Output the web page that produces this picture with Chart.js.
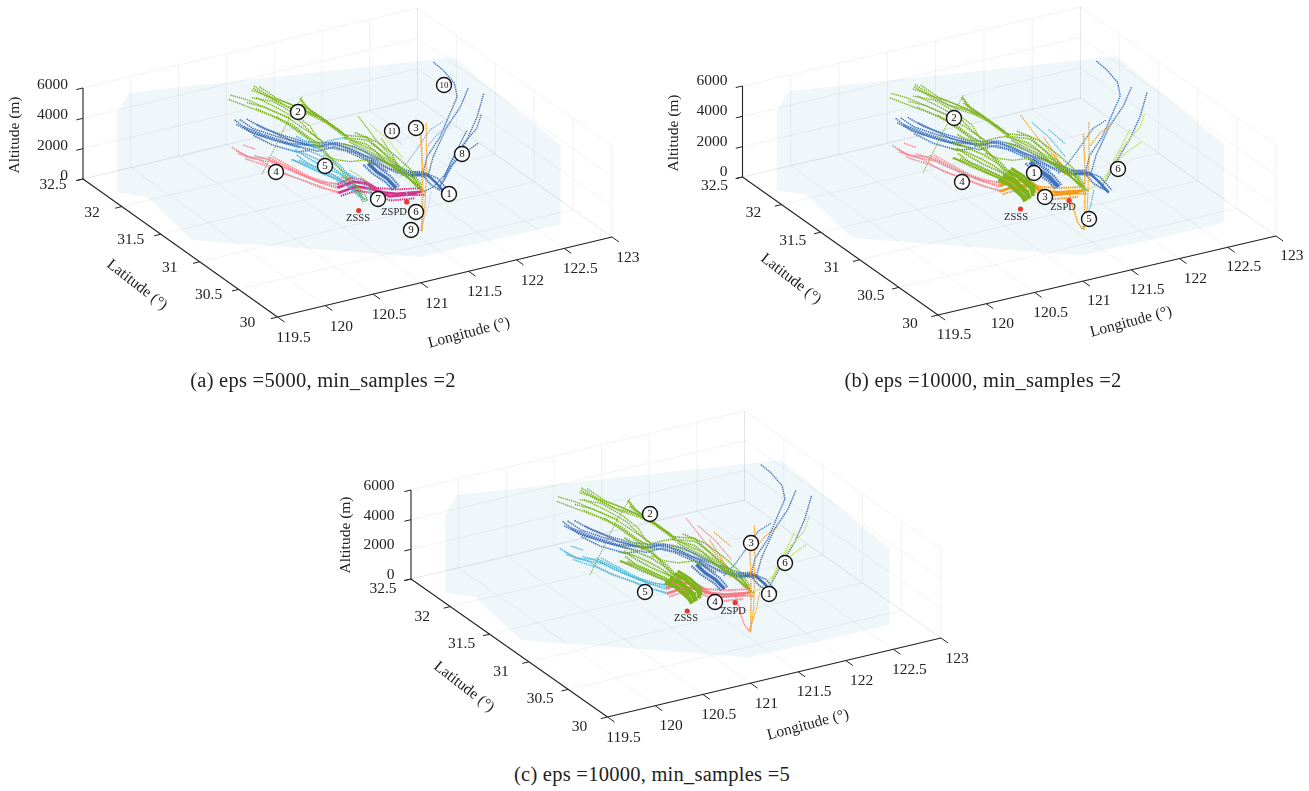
<!DOCTYPE html>
<html><head><meta charset="utf-8">
<style>
html,body{margin:0;padding:0;background:#fff;width:1309px;height:791px;overflow:hidden}
canvas{position:absolute}
.cap{position:absolute;font:20.5px "Liberation Serif",serif;letter-spacing:.25px;color:#222;white-space:nowrap;transform:translate(-50%,-50%)}
</style>
<script src="https://cdn.jsdelivr.net/npm/chart.js@4/dist/chart.umd.min.js"></script>
</head><body>
<canvas id="pa" width="655" height="400" style="left:0;top:0;width:655px;height:400px"></canvas>
<canvas id="pb" width="654" height="400" style="left:655px;top:0;width:654px;height:400px"></canvas>
<canvas id="pc" width="660" height="360" style="left:320px;top:400px;width:660px;height:360px"></canvas>
<div class="cap" style="left:323px;top:380px">(a) eps =5000, min_samples =2</div>
<div class="cap" style="left:983px;top:380px">(b) eps =10000, min_samples =2</div>
<div class="cap" style="left:652px;top:774px">(c) eps =10000, min_samples =5</div>
<script>
// ---- axis ticks ----
const lonTicks=[119.5,120,120.5,121,121.5,122,122.5,123];
const latTicks=[30,30.5,31,31.5,32,32.5];
const altTicks=[0,2000,4000,6000];
// ---- airports: lon, lat, alt ----
const ZSSS=[121.31,31.18,0];
const ZSPD=[121.78,31.14,0];
// ---- terminal airspace outline: lon, lat, alt ----
const airspace=[[119.62,32.21,0],[119.8,32.05,0],[119.68,31.32,0],[121.28,30.35,0],[122.74,30.34,0],[122.74,30.34,5200],[122.87,31.88,5200],[119.94,32.45,5200],[119.62,32.21,5200],[119.62,32.21,0]];
// ---- trajectories: lon, lat, alt (m) ----
const t2a=[[120.79,32.21,4350],[120.92,32.14,3960],[121.07,32.03,3560],[121.19,31.91,3160],[121.25,31.78,2770],[121.33,31.70,2500]];
const t2b=[[121.06,32.23,4610],[121.12,32.12,4350],[121.23,32.01,3960],[121.42,31.98,3430],[121.52,31.90,3030],[121.60,31.74,2500],[121.85,31.74,1980],[121.86,31.58,1710],[121.86,31.32,1320],[121.92,31.15,660]];
const t2c=[[120.99,32.16,4350],[121.18,32.12,3960],[121.30,32.00,3430],[121.35,31.85,3030],[121.33,31.72,2640]];
const t2d=[[121.15,32.26,4480],[121.22,32.12,4090],[121.36,32.04,3630],[121.49,31.94,3160]];
const t2e=[[121.46,32.09,3960],[121.31,32.06,2970],[121.18,32.03,1980],[120.89,31.91,330]];
const t2f=[[121.45,32.10,3820],[121.46,31.99,3430],[121.54,31.88,2970],[121.62,31.71,2500]];
const t2g=[[121.15,32.04,3300],[121.21,31.89,2970],[121.26,31.75,2640],[121.32,31.62,2240],[121.32,31.46,1850],[121.34,31.35,1450],[121.35,31.22,920],[121.37,31.17,530]];
const t2h=[[121.60,31.73,2370],[121.82,31.70,1980],[121.86,31.54,1710],[121.88,31.40,1450],[121.93,31.28,1050],[121.94,31.14,660]];
const t2i=[[121.62,31.68,2240],[121.75,31.49,1850],[121.85,31.36,1320],[121.90,31.20,920],[121.90,31.09,660]];
const t2j=[[121.34,31.67,1850],[121.42,31.60,1650],[121.54,31.57,1450],[121.71,31.57,1320],[121.73,31.50,1190]];
const t2k=[[121.02,32.20,4640],[121.10,32.13,4480],[121.25,32.03,4090],[121.40,31.97,3600],[121.50,31.92,3210],[121.58,31.76,2700]];
const t2l=[[121.10,32.27,4560],[121.17,32.13,4200],[121.27,32.00,3780],[121.44,31.95,3270],[121.55,31.87,2860],[121.63,31.72,2380]];
const t2m=[[120.93,32.15,4150],[121.08,32.10,3800],[121.22,31.98,3330],[121.30,31.84,2900],[121.36,31.70,2560]];
const t2n=[[121.05,32.18,4200],[121.20,32.08,3620],[121.31,31.95,3150],[121.33,31.80,2760],[121.39,31.68,2350]];
const t2o=[[121.00,32.12,3760],[121.12,32.02,3400],[121.22,31.92,3100],[121.29,31.80,2620],[121.36,31.66,2180]];
const t2p=[[121.63,31.75,2200],[121.78,31.66,1920],[121.83,31.52,1560],[121.90,31.38,1240],[121.95,31.24,880],[121.93,31.11,560]];
const t2q=[[121.58,31.70,2080],[121.72,31.58,1760],[121.80,31.42,1500],[121.87,31.30,1130],[121.92,31.16,800]];
const t2r=[[121.75,31.77,2330],[121.88,31.64,1980],[121.94,31.48,1560],[121.97,31.32,1180],[121.96,31.17,740]];
const t2s=[[121.68,31.74,2050],[121.82,31.60,1620],[121.84,31.45,1300],[121.89,31.26,980],[121.95,31.10,500]];
const t2t=[[120.83,32.24,4480],[120.96,32.18,4180],[121.10,32.06,3760],[121.22,31.95,3420]];
const t2u=[[121.43,32.06,3600],[121.49,31.97,3300],[121.56,31.86,2840],[121.64,31.72,2350]];
const t2v=[[121.42,32.07,3980],[121.43,32.00,3600],[121.52,31.90,3150],[121.60,31.74,2650]];
const t5a=[[120.93,31.51,3030],[120.99,31.44,2640],[121.09,31.36,2240],[121.21,31.30,1850],[121.28,31.25,1450],[121.32,31.17,920],[121.40,31.18,530]];
const t5b=[[120.91,31.46,2900],[121.04,31.39,2500],[121.18,31.30,1980],[121.31,31.20,1050]];
const t5c=[[120.91,31.57,3160],[121.03,31.53,2900],[121.14,31.47,2500],[121.25,31.43,1980],[121.31,31.33,1580],[121.37,31.19,660]];
const t5d=[[121.24,31.68,2370],[121.41,31.73,2370],[121.53,31.76,2240],[121.65,31.75,2240]];
const t5e=[[120.95,31.55,3200],[121.02,31.47,2820],[121.12,31.40,2380],[121.23,31.33,2000],[121.30,31.27,1550],[121.35,31.19,1020]];
const t5f=[[120.88,31.50,2850],[121.00,31.41,2380],[121.12,31.33,2000],[121.24,31.27,1680],[121.33,31.19,1120]];
const t5g=[[120.96,31.60,3400],[121.06,31.53,3080],[121.17,31.48,2700],[121.27,31.41,2180],[121.33,31.32,1640],[121.38,31.21,800]];
const t5h=[[120.89,31.53,2700],[121.00,31.47,2400],[121.10,31.39,2060],[121.20,31.32,1680],[121.29,31.22,1230]];
const t5i=[[121.08,31.70,3350],[121.15,31.60,3080],[121.22,31.52,2750],[121.30,31.42,2180],[121.36,31.30,1440]];
const t8=[[121.26,31.34,1710],[121.33,31.29,1450],[121.39,31.20,920],[121.40,31.18,530]];
const t8b=[[121.31,31.34,1910],[121.38,31.29,1620],[121.44,31.20,1090],[121.44,31.18,660]];
const t8c=[[121.21,31.34,1500],[121.28,31.29,1260],[121.34,31.20,760],[121.36,31.18,430]];
const t8d=[[121.35,31.35,2000],[121.42,31.28,1660],[121.47,31.21,1200],[121.46,31.19,800]];
const b1=[[120.83,32.12,3300],[120.88,32.01,3030],[121.02,31.88,2770],[121.16,31.80,2500],[121.30,31.71,2240],[121.45,31.72,2240],[121.60,31.64,1980],[121.71,31.52,1580],[121.82,31.40,1190],[121.95,31.30,920],[122.13,31.27,660]];
const b2=[[120.81,32.16,3160],[120.84,32.00,2900],[120.98,31.87,2640],[121.17,31.76,2240]];
const b3=[[120.80,32.04,3160],[120.91,31.92,2900],[121.09,31.80,2500],[121.32,31.73,2240],[121.52,31.72,2110],[121.67,31.56,1710],[121.82,31.49,1320],[121.91,31.34,1050],[122.12,31.30,660]];
const b4=[[121.66,31.49,1450],[121.68,31.40,1190],[121.73,31.33,920],[121.76,31.25,530]];
const b5=[[120.85,31.97,2770],[120.94,31.83,2500],[121.12,31.74,2110],[121.24,31.72,2110]];
const b6=[[121.95,31.30,920],[122.11,31.29,790],[122.11,31.16,660],[122.11,31.04,400]];
const b7=[[122.07,31.29,790],[122.06,31.17,590],[122.11,31.08,400]];
const b8=[[120.77,32.09,3180],[120.86,31.98,2850],[121.00,31.84,2620],[121.14,31.76,2380],[121.29,31.68,2120],[121.47,31.69,2110],[121.61,31.60,1820],[121.72,31.49,1430],[121.84,31.37,1060],[121.98,31.28,800]];
const b9=[[120.87,32.08,3420],[120.95,31.96,3100],[121.07,31.84,2880],[121.20,31.76,2620],[121.36,31.74,2340],[121.50,31.70,2300],[121.63,31.62,2120],[121.73,31.55,1700],[121.85,31.43,1320],[121.98,31.33,1010],[122.10,31.31,800]];
const b10=[[120.93,32.02,3180],[121.03,31.93,2850],[121.12,31.83,2560],[121.26,31.74,2380],[121.40,31.72,2100],[121.56,31.66,1820],[121.68,31.50,1500],[121.78,31.38,1120]];
const b11=[[121.62,31.50,1380],[121.65,31.42,1050],[121.70,31.31,800],[121.72,31.24,480]];
const b12=[[121.70,31.50,1560],[121.72,31.40,1290],[121.77,31.33,1000],[121.79,31.25,620]];
const b13=[[121.96,31.32,1050],[122.08,31.32,900],[122.15,31.20,790],[122.15,31.05,470]];
const n1=[[122.76,32.00,4610],[122.79,31.91,4350],[122.80,31.78,3960],[122.74,31.67,3560],[122.64,31.62,3030],[122.38,31.45,2240],[122.17,31.36,1580],[122.07,31.29,790]];
const n2=[[122.92,31.75,3560],[122.74,31.63,3030],[122.50,31.51,2500],[122.22,31.34,1580],[122.11,31.27,790]];
const n3=[[122.96,31.60,3690],[122.85,31.55,2500],[122.62,31.40,1850],[122.40,31.28,1320],[122.18,31.16,660],[122.08,31.12,400]];
const n4=[[122.63,31.27,2110],[122.47,31.26,1710],[122.31,31.23,1190],[122.14,31.15,530]];
const n5=[[122.86,31.51,2770],[122.74,31.42,2370],[122.57,31.36,1980],[122.41,31.29,1580],[122.24,31.22,790],[122.07,31.15,530],[121.96,31.14,400]];
const n6=[[122.51,31.57,2640],[122.38,31.58,2240],[122.14,31.46,1710],[121.98,31.39,1320],[121.83,31.35,920]];
const n7=[[122.66,31.45,2240],[122.52,31.37,1810],[122.36,31.28,1320],[122.20,31.18,780]];
const p1=[[120.62,31.96,2370],[120.65,31.81,2240],[120.83,31.78,1980],[120.92,31.63,1710],[121.06,31.50,1320],[121.23,31.36,920]];
const p2=[[120.62,31.88,2240],[120.76,31.78,1980],[120.86,31.60,1580],[120.99,31.50,1320],[121.21,31.32,790]];
const p3=[[120.86,31.79,1980],[120.96,31.59,1710],[121.08,31.44,1320],[121.27,31.39,1050]];
const p4=[[120.71,31.93,2500],[120.78,31.86,2370]];
const p5=[[120.90,31.78,1980],[121.02,31.54,1580],[121.13,31.42,1190]];
const p6=[[120.64,31.93,2240],[120.70,31.82,2060],[120.88,31.72,1800],[121.00,31.58,1440],[121.14,31.44,1100],[121.27,31.36,960]];
const p7=[[120.66,31.84,2000],[120.80,31.72,1720],[120.94,31.55,1400],[121.10,31.40,1000],[121.24,31.32,800]];
const p8=[[120.76,31.84,2060],[120.90,31.68,1890],[121.02,31.52,1500],[121.18,31.42,1180],[121.29,31.37,1000]];
const m1=[[121.24,31.37,920],[121.43,31.40,920],[121.54,31.36,790],[121.55,31.24,660],[121.68,31.15,660],[121.92,31.12,530]];
const m2=[[121.21,31.32,790],[121.43,31.35,790],[121.55,31.28,660],[121.62,31.16,530],[121.86,31.11,530]];
const m3=[[121.26,31.39,1040],[121.44,31.43,1060],[121.53,31.39,920],[121.56,31.27,790],[121.70,31.18,800],[121.93,31.15,640]];
const m4=[[121.22,31.30,660],[121.40,31.32,660],[121.52,31.26,560],[121.60,31.13,400],[121.82,31.08,400]];
const m5=[[121.24,31.35,1000],[121.42,31.37,1040],[121.56,31.33,760],[121.60,31.20,620],[121.74,31.12,620],[121.92,31.08,470]];
const o1=[[122.10,31.35,3160],[121.96,31.16,1980],[121.79,30.95,790],[121.57,30.69,0]];
const o2=[[122.18,31.38,3690],[122.02,31.18,2240],[121.76,30.88,660],[121.57,30.69,0]];
const o3=[[122.52,31.50,2640],[122.38,31.49,2240],[122.24,31.44,1850]];
const k1=[[121.86,31.86,2900],[121.87,31.64,2110],[121.91,31.42,1320],[121.91,31.18,660]];
const k2=[[121.89,31.75,2770],[121.97,31.63,2110],[121.99,31.44,1450]];
const k3=[[122.03,31.71,2240],[122.09,31.57,1710]];
const k4=[[121.93,31.65,2110],[121.91,31.47,1580],[121.85,31.28,1050]];
const s1=[[122.02,31.12,400],[121.85,30.95,260],[121.69,30.81,130],[121.57,30.71,0]];
const s2=[[121.80,31.17,530],[121.74,31.06,260],[121.60,30.81,70],[121.57,30.71,0]];

// ---- styling ----
const BLUE='#4272ba',LBLUE='#8fb0e0',GREEN='#7db41a',PINK='#f5808a',CYAN='#4cb9d6',MAG='#d4358a',ORG='#f29c1a',LIME='#c5e060',LAV='#c2cdeb',SAL='#f87c85';
const S=(t,c,w)=>({t,c,w});
const same=c=>[c,c,c];
const trackTable=[
 ...[p1,p2,p3,p4,p5,p6,p7,p8].map(t=>S(t,[PINK,PINK,CYAN],[1.4,1.4,1.4])),
 ...[n1,n2,n3].map(t=>S(t,same(BLUE),[1.4,1.4,1.4])),
 ...[n4,n5,n7].map(t=>S(t,[BLUE,LIME,LIME],[1.3,1.5,1.5])),
 S(n6,[LBLUE,BLUE,BLUE],[1.2,1.2,1.2]),
 S(k3,[LAV,CYAN,ORG],[1.2,1.2,1.2]),S(k2,[LIME,CYAN,SAL],[1.2,1.2,1.2]),S(k1,[GREEN,ORG,SAL],[1.2,1.2,1.2]),S(k4,[GREEN,ORG,ORG],[1.2,1.2,1.2]),S(o3,[LBLUE,ORG,ORG],[1.2,1.2,1.2]),
 ...[b1,b2,b5,b8,b9,b10].map(t=>S(t,same(BLUE),[1.6,1.6,1.6])),
 S(b3,same(BLUE),[2.2,2.2,2.2]),S(b11,same(BLUE),[2.2,2.2,2.2]),S(b12,same(BLUE),[2.2,2.2,2.2]),S(b4,same(BLUE),[3.5,4.5,3.5]),S(b6,same(BLUE),[2.6,2.6,2.6]),S(b13,same(BLUE),[1.6,1.6,1.6]),S(b7,same(BLUE),[1.8,1.8,1.8]),
 S(t5d,[CYAN,GREEN,GREEN],[1.6,1.6,1.6]),
 ...[t5a,t5b,t5c,t5e,t5f,t5g,t5h,t5i].map(t=>S(t,[CYAN,GREEN,GREEN],[1.7,1.9,1.9])),
 ...[t2a,t2c,t2d,t2k,t2l,t2m,t2n,t2o,t2t,t2j].map(t=>S(t,same(GREEN),[1.4,1.4,1.4])),
 S(t2e,same(GREEN),[1,1,1]),
 ...[t2f,t2u,t2v,t2b,t2g].map(t=>S(t,same(GREEN),[1.7,1.7,1.7])),
 ...[t2h,t2i,t2p,t2q,t2r,t2s].map(t=>S(t,same(GREEN),[1.7,1.7,1.7])),
 S(m3,[MAG,ORG,SAL],[2,2,2]),S(m4,[MAG,ORG,SAL],[2,2,2]),S(m5,[MAG,ORG,SAL],[2.4,2.4,2.4]),S(m1,[MAG,ORG,SAL],[2.6,2.6,2.6]),S(m2,[MAG,ORG,SAL],[2.6,2.6,2.6]),
 S(t8b,[CYAN,GREEN,GREEN],[1.5,4,4]),S(t8c,[CYAN,GREEN,GREEN],[1.5,4,4]),S(t8d,[GREEN,GREEN,GREEN],[1,3,3]),S(t8,same(GREEN),[1.5,5,5]),
 S(s1,[LAV,CYAN,ORG],[1.1,1.3,1.1]),S(s2,[LAV,ORG,SAL],[1.1,1.5,1.4]),S(o2,same(ORG),[1.2,1.2,1.2]),S(o1,same(ORG),[1.8,1.5,1.5])
];
const views=[
 {id:'pa',box:[0,0,655,400],o:[277.5,317],lon:[95.57,-22.86],lat:[-77.8,-55.2],e:0.01517,
  altOff:[-15,-3],latOff:[-30,6],lonOff:[16,21],
  titles:[['Altitude (m)',15,135,-90],['Latitude (°)',137,285,38],['Longitude (°)',469,333,-15]],
  apt:[['ZSSS',358,218],['ZSPD',394,212]],
  marks:[['1',449,194],['2',298,112],['3',416,128],['4',276,172],['5',325,166],['6',416,212],['7',378,199],['8',462,154],['9',411,230],['10',444,85],['11',392,131]]},
 {id:'pb',box:[655,0,654,400],o:[938,315],lon:[96.57,-22.57],lat:[-78.2,-55.2],e:0.01517,
  altOff:[-15,-5],latOff:[-28,8.5],lonOff:[16,20],
  titles:[['Altitude (m)',674,133,-90],['Latitude (°)',791,279,38],['Longitude (°)',1131,322,-15]],
  apt:[['ZSSS',1016,217],['ZSPD',1063,207]],
  marks:[['1',1034,173],['2',954,118],['3',1045,197],['4',962,182],['5',1089,219],['6',1118,169]]},
 {id:'pc',box:[320,400,660,360],o:[607.5,717],lon:[95.29,-22.57],lat:[-78.6,-55.2],e:0.01483,
  altOff:[-16.5,-4],latOff:[-28,10],lonOff:[16,20.5],
  titles:[['Altitude (m)',346,535,-90],['Latitude (°)',464,687,38],['Longitude (°)',808,725,-15]],
  apt:[['ZSSS',686,618],['ZSPD',733,611]],
  marks:[['1',769,594],['2',650,514],['3',751,543],['4',715,602],['5',645,592],['6',785,563]]}
];
views.forEach((v,vi)=>{
  const P=(lon,lat,alt)=>({x:v.o[0]+(lon-119.5)*v.lon[0]+(lat-30)*v.lat[0],
                           y:v.o[1]+(lon-119.5)*v.lon[1]+(lat-30)*v.lat[1]-alt*v.e});
  const line=(pts,color,w,extra)=>Object.assign({type:'scatter',data:pts,showLine:true,pointRadius:0,borderColor:color,borderWidth:w,tension:0,fill:false},extra||{});
  const ds=[];
  ds.push(line(airspace.map(p=>P(...p)),'rgba(0,0,0,0)',0,{fill:'shape',backgroundColor:'#f0f7fb'}));
  const G='rgba(0,0,0,0.05)';
  lonTicks.forEach(l=>{ds.push(line([P(l,30,0),P(l,32.5,0)],G,1));ds.push(line([P(l,32.5,0),P(l,32.5,6000)],G,1));});
  latTicks.forEach(l=>{ds.push(line([P(119.5,l,0),P(123,l,0)],G,1));ds.push(line([P(123,l,0),P(123,l,6000)],G,1));});
  altTicks.forEach(a=>{ds.push(line([P(119.5,32.5,a),P(123,32.5,a)],G,1));ds.push(line([P(123,32.5,a),P(123,30,a)],G,1));});
  const K='#222';
  ds.push(line([P(119.5,32.5,0),P(119.5,32.5,6000)],K,1.1));
  ds.push(line([P(119.5,32.5,0),P(119.5,30,0)],K,1.1));
  ds.push(line([P(119.5,30,0),P(123,30,0)],K,1.1));
  altTicks.forEach(a=>ds.push(line([P(119.5,32.5,a),P(119.43,32.5,a)],K,1)));
  latTicks.forEach(l=>ds.push(line([P(119.5,l,0),P(119.43,l,0)],K,1)));
  lonTicks.forEach(l=>ds.push(line([P(l,30,0),P(l,29.91,0)],K,1)));
  trackTable.forEach(s=>ds.push(line(s.t.map(p=>P(...p)),s.c[vi],s.w[vi],{borderDash:s.w[vi]>=2.5?[]:[1.4,.8]})));
  ds.push({type:'scatter',data:[P(...ZSSS),P(...ZSPD)],pointRadius:2.6,pointBackgroundColor:'#e8392f',pointBorderWidth:0,showLine:false});
  ds.push({type:'scatter',data:v.marks.map(m=>({x:m[1],y:m[2]})),pointRadius:7.5,pointBackgroundColor:'#fff',pointBorderColor:'#111',pointBorderWidth:1.4,showLine:false});
  ds.reverse(); // Chart.js paints the first dataset on top
  const textPlugin={id:'txt',afterDatasetsDraw(c){
    const X=c.scales.x,Y=c.scales.y,g=c.ctx;
    const put=(s,x,y,font,color,rot,al)=>{g.save();g.translate(X.getPixelForValue(x),Y.getPixelForValue(y));if(rot)g.rotate(rot*Math.PI/180);
      g.font=font;g.fillStyle=color;g.textAlign=al||'center';g.textBaseline='middle';g.fillText(s,0,0);g.restore();};
    const F='"Liberation Serif",serif';
    altTicks.forEach(a=>{const p=P(119.5,32.5,a);put(String(a),p.x+v.altOff[0],p.y+v.altOff[1],'15.5px '+F,'#222',0,'right');});
    latTicks.forEach(l=>{const p=P(119.5,l,0);put(String(l),p.x+v.latOff[0],p.y+v.latOff[1],'15.5px '+F,'#222');});
    lonTicks.forEach(l=>{const p=P(l,30,0);put(String(l),p.x+v.lonOff[0],p.y+v.lonOff[1],'15.5px '+F,'#222');});
    v.titles.forEach(t=>put(t[0],t[1],t[2],'15.5px '+F,'#222',t[3]));
    v.apt.forEach(t=>put(t[0],t[1],t[2],'10.5px '+F,'#222'));
    v.marks.forEach(m=>put(m[0],m[1],m[2]+.5,(m[0].length>1?'9px ':'11px ')+F,'#111'));
  }};
  new Chart(document.getElementById(v.id),{type:'scatter',data:{datasets:ds},plugins:[textPlugin],
    options:{responsive:false,animation:false,layout:{padding:0,autoPadding:false},
      plugins:{legend:{display:false},tooltip:{enabled:false}},
      scales:{x:{type:'linear',display:false,min:v.box[0],max:v.box[0]+v.box[2]},
              y:{type:'linear',display:false,min:v.box[1],max:v.box[1]+v.box[3],reverse:true}}}});
});
</script>
</body></html>
